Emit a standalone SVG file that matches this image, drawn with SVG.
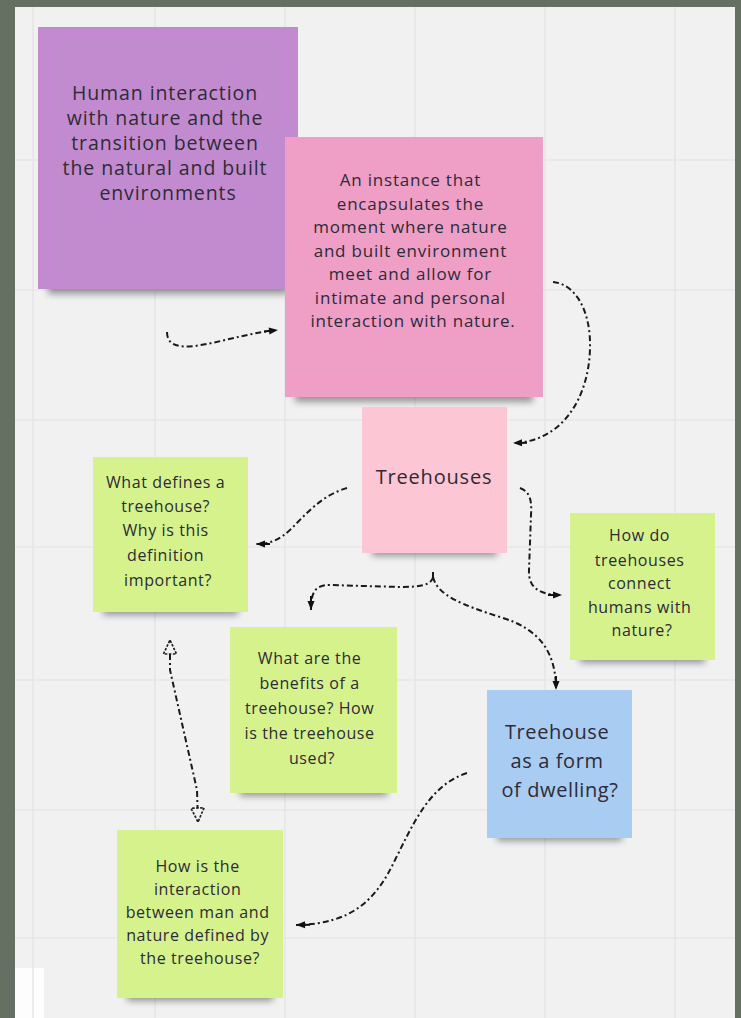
<svg xmlns="http://www.w3.org/2000/svg" width="741" height="1018" viewBox="0 0 741 1018">
  <style>
    .txt { font-family: "Open Sans", "Liberation Sans", sans-serif; fill: #2d2b36; text-anchor: middle; }
    .t-big { font-size: 19.5px; letter-spacing: 0.9px; }
    .t-mid { font-size: 17px; letter-spacing: 0.8px; }
    .t-sm { font-size: 16px; letter-spacing: 0.6px; }
    .grid line { stroke: #e6e6e6; stroke-width: 1.6; }
    .link { fill: none; stroke: #1a1a1a; stroke-width: 2; stroke-dasharray: 6 3 2 3; stroke-linecap: butt; }
    .shade { fill: #000; opacity: 0.38; filter: url(#blur); }
  </style>
  <defs>
    <filter id="blur" x="-20%" y="-100%" width="140%" height="300%">
      <feGaussianBlur stdDeviation="3.5"/>
    </filter>
    <marker id="head" viewBox="0 0 14 8" refX="14" refY="4" markerWidth="14" markerHeight="8" markerUnits="userSpaceOnUse" orient="auto">
      <line x1="0" y1="4" x2="8" y2="4" stroke="#111" stroke-width="2"/>
      <path d="M5,0.5 L14,4 L5,7.5 z" fill="#111"/>
    </marker>
    <marker id="hollow" viewBox="0 0 16 16" refX="15" refY="8" markerWidth="16" markerHeight="16" markerUnits="userSpaceOnUse" orient="auto-start-reverse">
      <path d="M1,1.5 L15,8 L1,14.5 z" fill="#f1f1f1" stroke="#222" stroke-width="1.7" stroke-dasharray="2.5 1.5"/>
    </marker>
  </defs>

  <!-- frame and board -->
  <rect x="0" y="0" width="741" height="1018" fill="#667062"/>
  <rect x="15" y="7" width="720" height="1011" fill="#f1f1f1"/>
  <rect x="15" y="968" width="29" height="50" fill="#fdfdfd"/>

  <g class="grid">
    <line x1="33" y1="7" x2="33" y2="1018"/>
    <line x1="155" y1="7" x2="155" y2="1018"/>
    <line x1="285" y1="7" x2="285" y2="1018"/>
    <line x1="415" y1="7" x2="415" y2="1018"/>
    <line x1="545" y1="7" x2="545" y2="1018"/>
    <line x1="675" y1="7" x2="675" y2="1018"/>
    <line x1="15" y1="160" x2="735" y2="160"/>
    <line x1="15" y1="290" x2="735" y2="290"/>
    <line x1="15" y1="420" x2="735" y2="420"/>
    <line x1="15" y1="547" x2="735" y2="547"/>
    <line x1="15" y1="680" x2="735" y2="680"/>
    <line x1="15" y1="810" x2="735" y2="810"/>
    <line x1="15" y1="938" x2="735" y2="938"/>
  </g>

  <!-- theme note -->
  <g id="node-theme">
    <rect class="shade" x="48" y="278" width="240" height="16"/>
    <rect x="38" y="27" width="260" height="262" fill="#c38bcf"/>
    <text class="txt t-big">
      <tspan x="168" y="100">Human interaction</tspan>
      <tspan x="168" y="125">with nature and the</tspan>
      <tspan x="168" y="150">transition between</tspan>
      <tspan x="168" y="175">the natural and built</tspan>
      <tspan x="168" y="200">environments</tspan>
    </text>
  </g>

  <!-- instance note -->
  <g id="node-instance">
    <rect class="shade" x="295" y="386" width="238" height="16"/>
    <rect x="285" y="137" width="258" height="260" fill="#ef9ec6"/>
    <text class="txt t-mid">
      <tspan x="413" y="186">An instance that</tspan>
      <tspan x="413" y="209.5">encapsulates the</tspan>
      <tspan x="413" y="233">moment where nature</tspan>
      <tspan x="413" y="256.5">and built environment</tspan>
      <tspan x="413" y="280">meet and allow for</tspan>
      <tspan x="413" y="303.5">intimate and personal</tspan>
      <tspan x="413" y="327">interaction with nature.</tspan>
    </text>
  </g>

  <!-- central topic -->
  <g id="node-treehouses">
    <rect class="shade" x="372" y="542" width="125" height="14"/>
    <rect x="362" y="407" width="145" height="146" fill="#fdc6d4"/>
    <text class="txt" x="434" y="484" font-size="20" letter-spacing="0.8">Treehouses</text>
  </g>

  <g id="node-definition">
    <rect class="shade" x="103" y="601" width="135" height="14"/>
    <rect x="93" y="457" width="155" height="155" fill="#d6f28c"/>
    <text class="txt t-sm">
      <tspan x="168" y="488">What defines a</tspan>
      <tspan x="168" y="512">treehouse?</tspan>
      <tspan x="168" y="536">Why is this</tspan>
      <tspan x="168" y="561">definition</tspan>
      <tspan x="168" y="586">important?</tspan>
    </text>
  </g>

  <g id="node-connect">
    <rect class="shade" x="580" y="649" width="125" height="14"/>
    <rect x="570" y="513" width="145" height="147" fill="#d6f28c"/>
    <text class="txt t-sm">
      <tspan x="642" y="541">How do</tspan>
      <tspan x="642" y="566">treehouses</tspan>
      <tspan x="642" y="589">connect</tspan>
      <tspan x="642" y="613">humans with</tspan>
      <tspan x="642" y="636">nature?</tspan>
    </text>
  </g>

  <g id="node-benefits">
    <rect class="shade" x="240" y="782" width="147" height="14"/>
    <rect x="230" y="627" width="167" height="166" fill="#d6f28c"/>
    <text class="txt t-sm">
      <tspan x="312" y="664">What are the</tspan>
      <tspan x="312" y="689">benefits of a</tspan>
      <tspan x="312" y="714">treehouse? How</tspan>
      <tspan x="312" y="739">is the treehouse</tspan>
      <tspan x="312" y="764">used?</tspan>
    </text>
  </g>

  <g id="node-dwelling">
    <rect class="shade" x="497" y="827" width="125" height="14"/>
    <rect x="487" y="690" width="145" height="148" fill="#a9ccf2"/>
    <text class="txt" font-size="20" letter-spacing="0.6">
      <tspan x="560" y="739">Treehouse</tspan>
      <tspan x="560" y="768">as a form</tspan>
      <tspan x="560" y="797">of dwelling?</tspan>
    </text>
  </g>

  <g id="node-interaction">
    <rect class="shade" x="127" y="987" width="146" height="14"/>
    <rect x="117" y="830" width="166" height="168" fill="#d6f28c"/>
    <text class="txt t-sm">
      <tspan x="200" y="872">How is the</tspan>
      <tspan x="200" y="895">interaction</tspan>
      <tspan x="200" y="918">between man and</tspan>
      <tspan x="200" y="941">nature defined by</tspan>
      <tspan x="200" y="964">the treehouse?</tspan>
    </text>
  </g>

  <!-- connectors -->
  <g id="connectors">
    <path class="link" d="M167,332 C167,344 176,348 195,346 C222,342 248,333 278,330" marker-end="url(#head)"/>
    <path class="link" d="M553,282 C576,284 591,312 590,348 C589,398 562,442 513,443" marker-end="url(#head)"/>
    <path class="link" d="M347,488 C322,495 306,514 292,528 C280,540 270,544 256,544" marker-end="url(#head)"/>
    <path class="link" d="M520,488 C530,492 532,500 531,515 L529,570 C528,588 540,595 562,595" marker-end="url(#head)"/>
    <line x1="433" y1="572" x2="433" y2="580" stroke="#1a1a1a" stroke-width="2"/>
    <path class="link" d="M433,577 C432,585 420,587 400,587 L330,585 C315,585 311,592 311,610" marker-end="url(#head)"/>
    <path class="link" d="M433,577 C437,595 462,605 500,617 C540,629 556,652 556,690" marker-end="url(#head)"/>
    <path class="link" d="M467,773 C430,785 414,822 395,860 C376,900 352,924 296,925" marker-end="url(#head)"/>
    <path class="link" d="M170,640 L170,670 L197,790 L198,822" marker-start="url(#hollow)" marker-end="url(#hollow)"/>
  </g>
</svg>
